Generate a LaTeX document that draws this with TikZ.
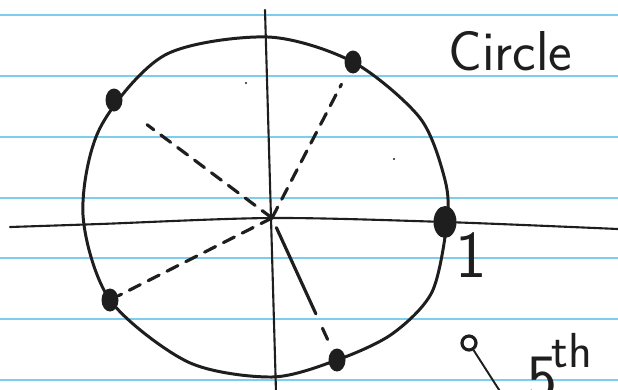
\documentclass[tikz,border=0pt]{standalone}
\usepackage{xcolor}
\usetikzlibrary{shapes.geometric}
\definecolor{ruleblue}{RGB}{125,205,238}
\definecolor{ink}{RGB}{30,30,30}

\begin{document}
\begin{tikzpicture}[x=0.02cm, y=-0.02cm,
    % Define styles
    rule/.style={draw=ruleblue, line width=0.8pt},
    axis/.style={draw=ink, line width=1.2pt, line cap=round},
    rim/.style={draw=ink, line width=1.7pt},
    pt/.style={ellipse, fill=ink, inner sep=0pt, minimum width=0.34cm, minimum height=0.46cm},
    spoke/.style={draw=ink, line width=1.8pt, dash pattern=on 7pt off 5pt, line cap=round},
    hand/.style={font=\sffamily, text=ink, inner sep=0pt}
]
\useasboundingbox (0,0) rectangle (618,389);
\clip (0,0) rectangle (618,389);
\fill[white] (0,0) rectangle (618,389);

% Ruled paper
\foreach \y in {15,76,137,198,258,319,380}
    \draw[rule] (0,\y) -- (618,\y);

% Axes
\coordinate (o) at (272,218);
\draw[axis] plot[smooth] coordinates {(10,227) (100,224) (272,218) (445,222) (618,229)};
\draw[axis] (265,10) -- (276,392);

% Unit circle
\draw[rim] plot[smooth cycle] coordinates {(268,37) (353,62) (420,118) (445,180) (447,222)
    (432,292) (392,334) (337,360) (272,377) (188,362) (110,300) (83,215)
    (100,128) (165,55)};

% Roots
\node[pt, minimum width=0.46cm, minimum height=0.64cm] (p0) at (445,222) {};
\node[pt] (p1) at (353,62) {};
\node[pt] (p2) at (114,100) {};
\node[pt] (p3) at (110,300) {};
\node[pt] (p4) at (337,360) {};

% Spokes
\draw[spoke, shorten >=8pt] (o) -- (p1);
\draw[spoke, shorten >=18pt] (o) -- (p2);
\draw[spoke] (o) -- (p3);
\draw[spoke, dash pattern=on 54pt off 9pt on 7pt off 20pt, shorten <=6pt] (o) -- (p4);

% Specks
\fill[ink] (246,83) circle (1.2);
\fill[ink] (394,159) circle (1.2);

% Labels
\node[hand, font=\sffamily\fontsize{32}{32}\selectfont, anchor=base west] (title) at (448,70) {Circle};
\node[hand, font=\sffamily\fontsize{38}{38}\selectfont, anchor=base] (one) at (471,277) {1};
\node[hand, font=\sffamily\fontsize{36}{36}\selectfont, anchor=base west] (fifth) at (527,398)
    {5\hspace{-3pt}\raisebox{0.62cm}{\fontsize{28}{28}\selectfont th}};

% Pointer
\node[draw=ink, circle, line width=1.8pt, inner sep=0pt, minimum size=0.28cm] (tip) at (469,343) {};
\coordinate (tail) at (503,396);
\draw[ink, line width=1.1pt] (tip) -- (tail);

\end{tikzpicture}
\end{document}
